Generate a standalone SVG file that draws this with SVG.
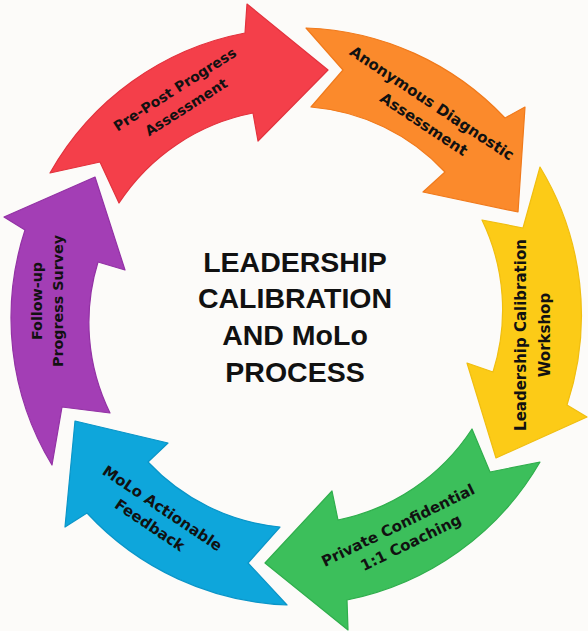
<svg xmlns="http://www.w3.org/2000/svg" width="588" height="631" viewBox="0 0 588 631">
<style>
.arrow{stroke-width:1.2;stroke-linejoin:round}
.lbl{font-family:"DejaVu Sans","Liberation Sans",sans-serif;font-weight:bold;fill:#111;text-anchor:middle}
.title{font-family:"Liberation Sans",Arial,sans-serif;font-weight:bold;font-size:28.5px;fill:#111;text-anchor:middle}
</style>
<rect width="588" height="631" fill="#FCFBF9"/>
<g id="connectors"/>
<g id="pre-post">
<path class="arrow" fill="#F43F4A" stroke="#E2323D" d="M50,173 A285,285 0 0 1 245,33 L247,4 L328,70 L258,141 L253,113 A207,207 0 0 0 119,203 L100,162 Z"/>
<text class="lbl" font-size="14" transform="translate(177.5,93.5) rotate(-32.5)"><tspan x="0" y="0">Pre-Post Progress</tspan><tspan x="0" y="21">Assessment</tspan></text>
</g>
<g id="anonymous-diagnostic">
<path class="arrow" fill="#FB8A2C" stroke="#F07A1C" d="M306,28 L343,70 L311,107 A207,207 0 0 1 445,172 L423,192 L518,212 L525,107 L505,118 A287,287 0 0 0 306,28 Z"/>
<text class="lbl" font-size="15" transform="translate(429,107.5) rotate(33.6)"><tspan x="0" y="0">Anonymous Diagnostic</tspan><tspan x="5" y="22">Assessment</tspan></text>
</g>
<g id="workshop">
<path class="arrow" fill="#FCCB17" stroke="#F0BE10" d="M540,167 A286,286 0 0 1 567,405 L587,417 L496,458 L467,363 L493,372 A206,206 0 0 0 482,220 L523,228 Z"/>
<text class="lbl" font-size="15" transform="translate(526,335) rotate(-90)"><tspan x="0" y="0">Leadership Calibration</tspan><tspan x="0" y="24">Workshop</tspan></text>
</g>
<g id="coaching">
<path class="arrow" fill="#3CBF5B" stroke="#2FAE4C" d="M472,429 L490,472 L540,462 A288,288 0 0 1 347,600 L348,630 L265,563 L332,491 L338,520 A210,210 0 0 0 472,429 Z"/>
<text class="lbl" font-size="15" transform="translate(400.3,530) rotate(-26)"><tspan x="0" y="0">Private Confidential</tspan><tspan x="4" y="21">1:1 Coaching</tspan></text>
</g>
<g id="feedback">
<path class="arrow" fill="#0EA6DB" stroke="#0A95C8" d="M280,527 L248,563 L287,605 A288,288 0 0 1 87,513 L65,527 L75,421 L168,443 L148,462 A208,208 0 0 0 280,527 Z"/>
<text class="lbl" font-size="15" transform="translate(159.5,512.5) rotate(33.9)"><tspan x="0" y="0">MoLo Actionable</tspan><tspan x="-1" y="21">Feedback</tspan></text>
</g>
<g id="survey">
<path class="arrow" fill="#A33EB5" stroke="#9332A5" d="M52,465 L62,407 L110,413 A205,205 0 0 1 98,262 L125,270 L95,177 L4,217 L25,230 A284,284 0 0 0 52,465 Z"/>
<text class="lbl" font-size="14.3" transform="translate(41.7,301) rotate(-90)"><tspan x="0" y="0">Follow-up</tspan><tspan x="0" y="21.6">Progress Survey</tspan></text>
</g>
<g id="title">
<text class="title" x="295" y="272">LEADERSHIP</text>
<text class="title" x="295" y="308">CALIBRATION</text>
<text class="title" x="295" y="345">AND MoLo</text>
<text class="title" x="295" y="382">PROCESS</text>
</g>
</svg>
